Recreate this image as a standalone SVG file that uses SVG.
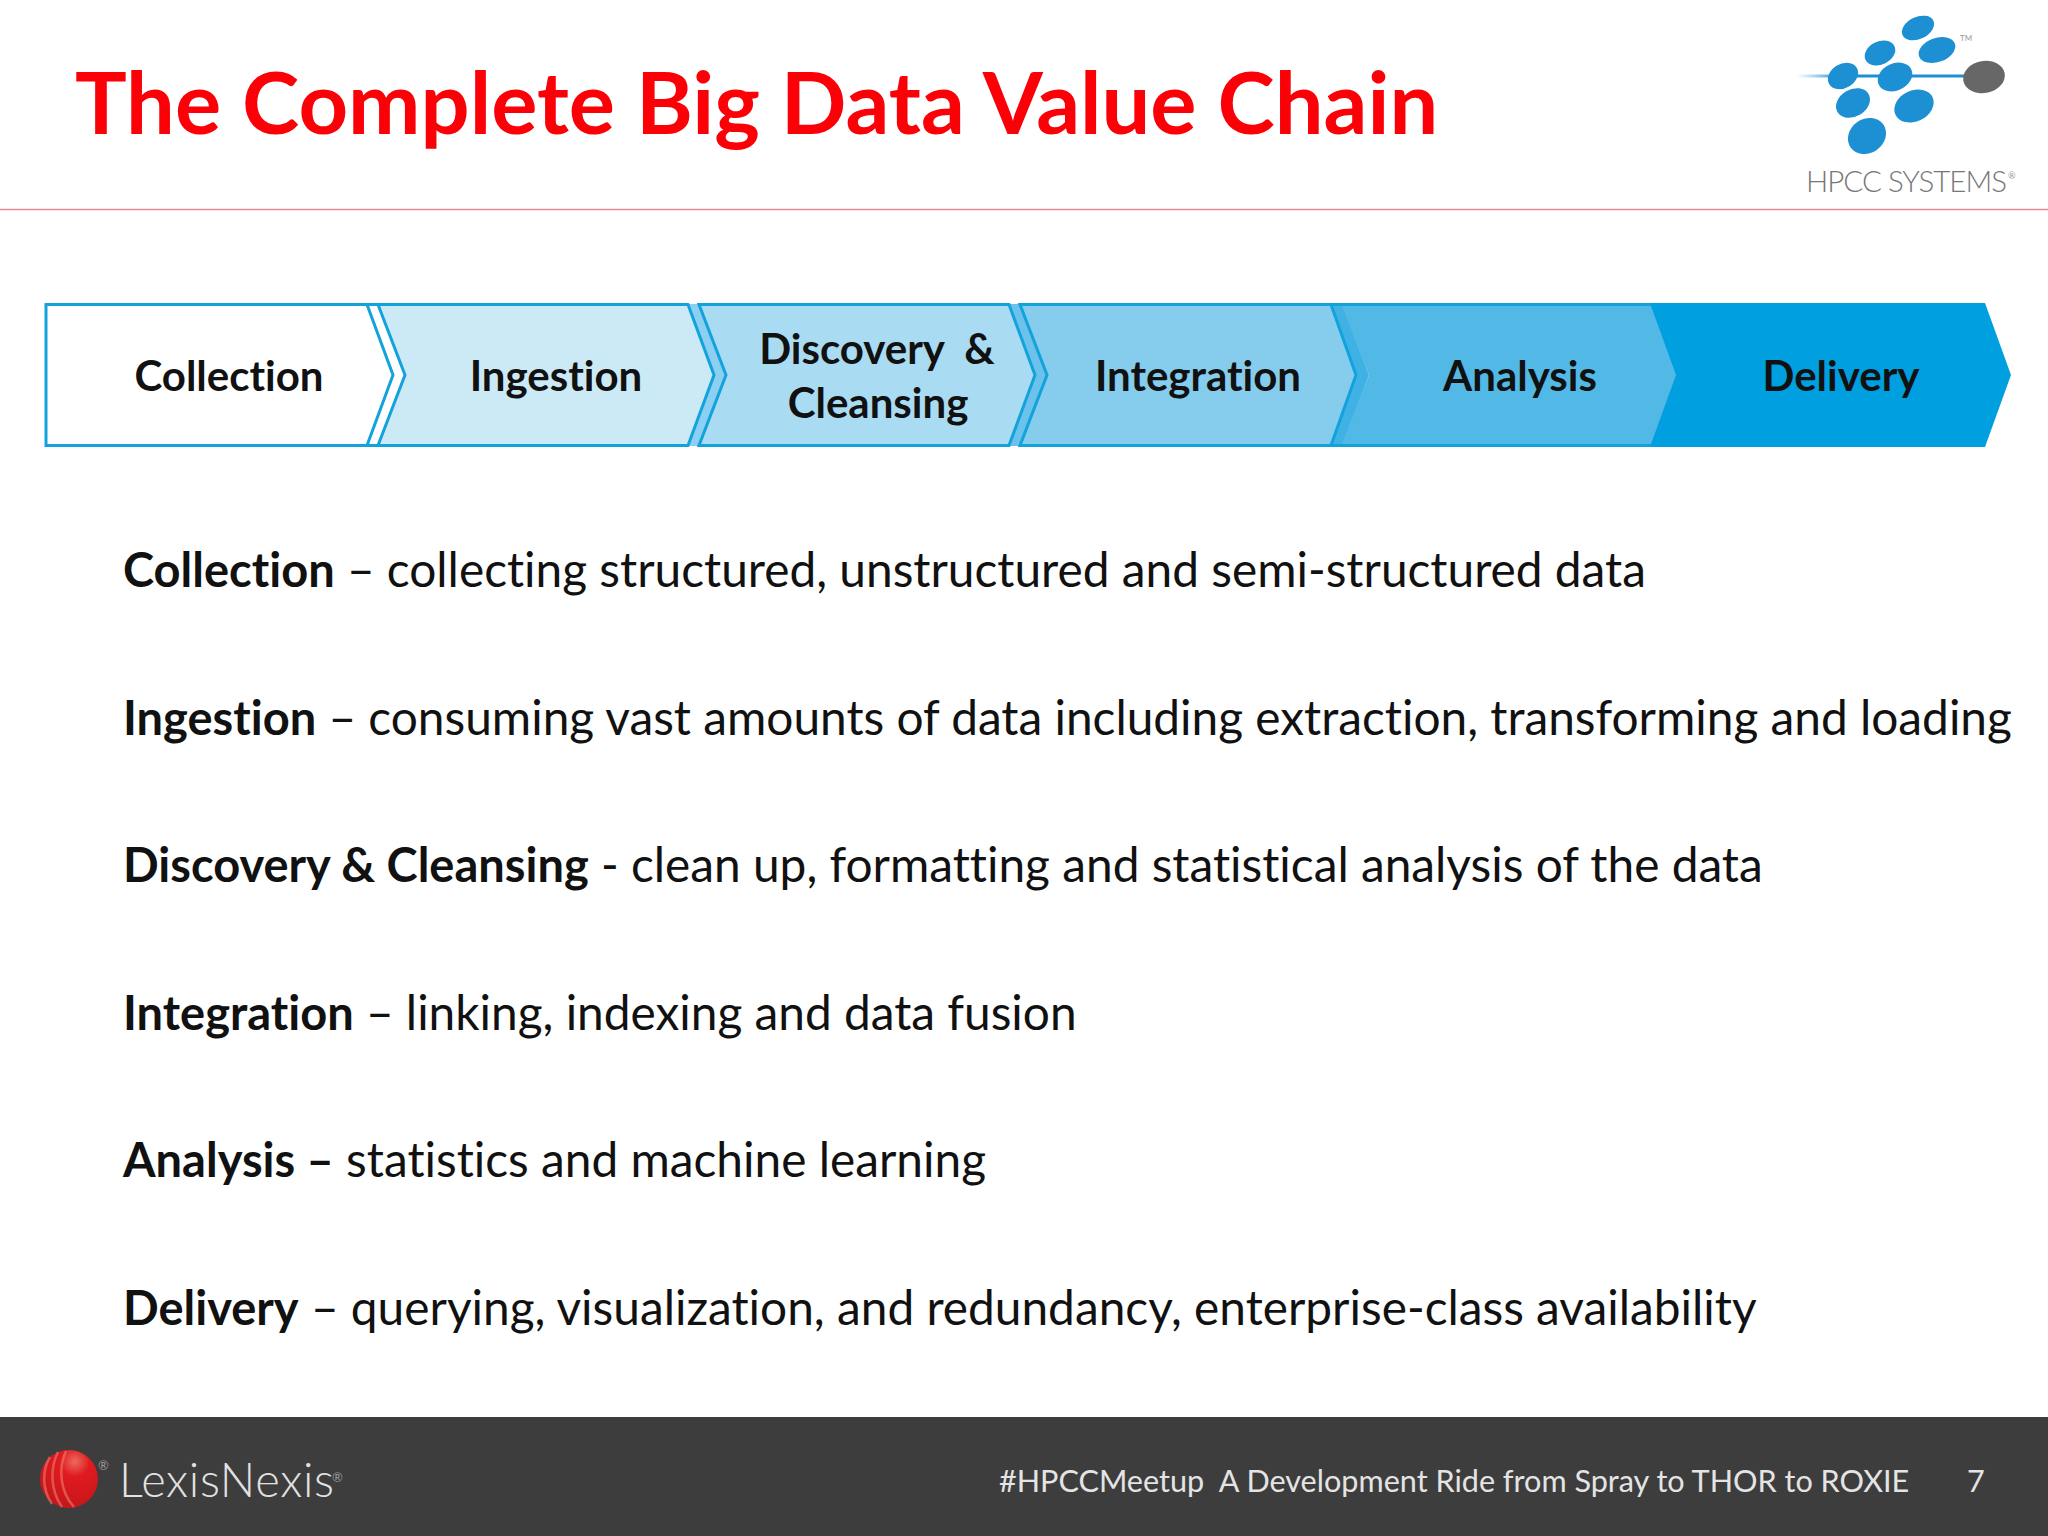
<svg xmlns="http://www.w3.org/2000/svg" width="2048" height="1536" viewBox="0 0 2048 1536">
<style>
text{font-family:Lato,"Liberation Sans",sans-serif;font-variant-ligatures:none;}
.title{font-size:86.5px;font-weight:700;fill:#fb0007;}
.lbl{font-size:42px;font-weight:700;fill:#111;text-anchor:middle;}
.d{font-size:47.8px;fill:#111;}
.d .b{font-weight:700;font-size:47px;}
.ft{font-size:30.6px;fill:#e4e4e4;}
.chev{stroke:#12a2dc;stroke-width:3;stroke-linejoin:miter;}
</style>
<defs>
<linearGradient id="lg" x1="0" x2="1" y1="0" y2="0"><stop offset="0" stop-color="#1e8fd0" stop-opacity="0"/><stop offset="0.25" stop-color="#1e8fd0"/><stop offset="1" stop-color="#1e8fd0"/></linearGradient>
<radialGradient id="sph" cx="0.6" cy="0.2" r="0.85"><stop offset="0" stop-color="#ee6a60"/><stop offset="0.3" stop-color="#e01b1f"/><stop offset="1" stop-color="#c3161a"/></radialGradient>
</defs>
<rect width="2048" height="1536" fill="#fff"/>
<rect y="1417" width="2048" height="119" fill="#3d3d3d"/>
<line x1="0" x2="2048" y1="209.5" y2="209.5" stroke="#e88a8f" stroke-width="1.5"/>
<text class="title" x="75" y="134">The Complete Big Data Value Chain</text>
<g id="hpcc-logo">
<rect x="1797" y="74.500" width="187" height="3" fill="url(#lg)"/>
<g fill="#1c90d3">
<ellipse cx="1918" cy="28" rx="17" ry="11" transform="rotate(-25 1918 28)"/>
<ellipse cx="1937" cy="50" rx="19" ry="12" transform="rotate(-20 1937 50)"/>
<ellipse cx="1880" cy="53" rx="16" ry="11.500" transform="rotate(-25 1880 53)"/>
<ellipse cx="1843" cy="76" rx="16" ry="12" transform="rotate(-30 1843 76)"/>
<ellipse cx="1895" cy="77" rx="18" ry="13.500" transform="rotate(-25 1895 77)"/>
<ellipse cx="1853" cy="103" rx="18" ry="13.500" transform="rotate(-30 1853 103)"/>
<ellipse cx="1914" cy="106" rx="20.500" ry="15.500" transform="rotate(-25 1914 106)"/>
<ellipse cx="1867" cy="136" rx="20" ry="17" transform="rotate(-35 1867 136)"/>
</g>
<ellipse cx="1984" cy="77" rx="21" ry="16" fill="#676767" transform="rotate(-10 1984 77)"/>
<text x="1806" y="192" font-size="29.5" font-weight="300" fill="#777" textLength="201">HPCC SYSTEMS</text>
<text x="2008" y="179" font-size="9" fill="#999">®</text>
<text x="1960" y="41" font-size="8" fill="#999">TM</text>
</g>
<g id="chevrons">
<g id="n-delivery"><path fill="#009fdf" d="M1640 303H1985L2011 375L1985 447H1640Z"/><text class="lbl" x="1841" y="391">Delivery</text></g>
<g id="n-analysis"><path fill="#3fb1e5" d="M1331 303H1342L1369 375L1342 447H1331L1356 375Z"/><path fill="#52b9e7" d="M1342 306H1651L1676 375L1651 444H1342L1369 375Z"/><path d="M1331 304.500H1651M1331 445.500H1651" stroke="#12a2dc" stroke-width="3" fill="none"/><text class="lbl" x="1520" y="391">Analysis</text></g>
<g id="n-integration"><path fill="#6cc2ea" d="M1009 304H1020L1047 375L1020 446H1009L1035 375Z"/><path class="chev" fill="#85cced" d="M1020 304.500H1331L1356 375L1331 445.500H1020L1047 375Z"/><text class="lbl" x="1198" y="391">Integration</text></g>
<g id="n-discovery"><path fill="#8ccff0" d="M688 304H699L726 375L699 446H688L714 375Z"/><path class="chev" fill="#a9dbf2" d="M699 304.500H1009L1035 375L1009 445.500H699L726 375Z"/><text class="lbl" x="877" y="364" xml:space="preserve">Discovery  &amp;</text><text class="lbl" x="878" y="418">Cleansing</text></g>
<g id="n-ingestion"><path class="chev" fill="#cce9f6" d="M378 304.500H688L714 375L688 445.500H378L405 375Z"/><text class="lbl" x="556" y="391">Ingestion</text></g>
<g id="n-collection"><path class="chev" fill="#fff" d="M46 304.500H367L393 375L367 445.500H46Z"/><path d="M367 304.500H378M367 445.500H378" stroke="#12a2dc" stroke-width="3"/><text class="lbl" x="229" y="391">Collection</text></g>
</g>
<g id="descriptions">
<text class="d" x="123" y="587"><tspan class="b">Collection</tspan> – collecting structured, unstructured and semi-structured data</text>
<text class="d" x="123" y="735"><tspan class="b">Ingestion</tspan> – consuming vast amounts of data including extraction, transforming and loading</text>
<text class="d" x="123" y="882"><tspan class="b">Discovery &amp; Cleansing</tspan> - clean up, formatting and statistical analysis of the data</text>
<text class="d" x="123" y="1030"><tspan class="b">Integration</tspan> – linking, indexing and data fusion</text>
<text class="d" x="123" y="1177"><tspan class="b">Analysis –</tspan> statistics and machine learning</text>
<text class="d" x="123" y="1325"><tspan class="b">Delivery</tspan> – querying, visualization, and redundancy, enterprise-class availability</text>
</g>
<g id="footer">
<circle cx="69" cy="1479" r="29" fill="url(#sph)"/>
<path d="M50 1457C42 1470 42 1490 52 1504M58 1452C50 1468 50 1490 62 1507M66 1451C58 1468 60 1492 74 1507" fill="none" stroke="#ee7a70" stroke-opacity=".6" stroke-width="2.500"/>
<text x="119" y="1497" font-size="47" font-weight="300" fill="#e2e2e2" textLength="215">LexisNexis</text>
<text x="98" y="1470" font-size="13" fill="#999">®</text>
<text x="332" y="1482" font-size="13" fill="#999">®</text>
<text class="ft" x="999" y="1492" xml:space="preserve">#HPCCMeetup  A Development Ride from Spray to THOR to ROXIE</text>
<text class="ft" x="1967" y="1492">7</text>
</g>
</svg>
